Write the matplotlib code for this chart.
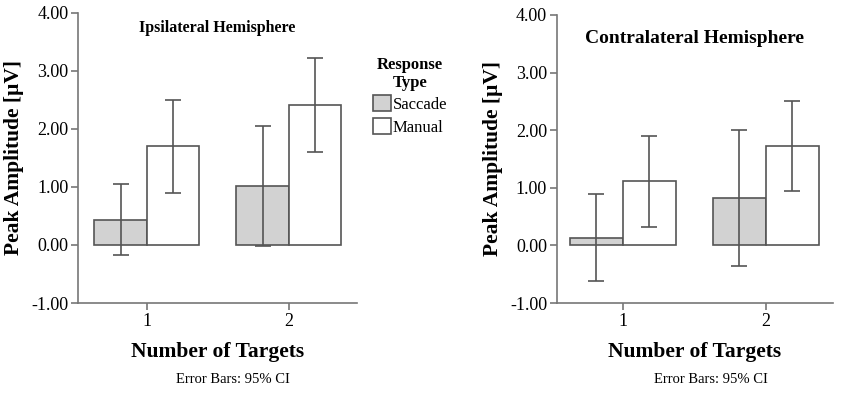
import matplotlib.pyplot as plt
import numpy as np

plt.rcParams['font.family'] = 'Liberation Serif'

targets = ['1', '2']
kinds = ['Saccade', 'Manual']

# ipsilateral hemisphere
ipsi_sacc = [0.43, 1.01]
ipsi_sacc_lo = [-0.18, -0.02]
ipsi_sacc_hi = [1.05, 2.05]
ipsi_man = [1.70, 2.41]
ipsi_man_lo = [0.89, 1.60]
ipsi_man_hi = [2.50, 3.22]

# contralateral hemisphere
contra_sacc = [0.13, 0.82]
contra_sacc_lo = [-0.62, -0.36]
contra_sacc_hi = [0.90, 2.00]
contra_man = [1.11, 1.73]
contra_man_lo = [0.32, 0.95]
contra_man_hi = [1.90, 2.50]

cor_borda = '#555555'
cor_sacc = '#d2d2d2'


def painel(ax, sacc, s_lo, s_hi, man, m_lo, m_hi, titulo, tam_titulo, y_titulo, xlim):
	x = np.arange(len(targets))
	w = 0.37
	xs = x - w / 2
	xm = x + w / 2
	b1 = ax.bar(xs, sacc, w, color=cor_sacc, edgecolor=cor_borda, linewidth=1.2, label=kinds[0])
	b2 = ax.bar(xm, man, w, color='white', edgecolor=cor_borda, linewidth=1.2, label=kinds[1])
	sacc = np.array(sacc); man = np.array(man)
	ax.errorbar(xs, sacc, yerr=[sacc - np.array(s_lo), np.array(s_hi) - sacc], fmt='none',
				ecolor=cor_borda, elinewidth=1.2, capsize=6, capthick=1.2)
	ax.errorbar(xm, man, yerr=[man - np.array(m_lo), np.array(m_hi) - man], fmt='none',
				ecolor=cor_borda, elinewidth=1.2, capsize=6, capthick=1.2)

	ax.set_ylim(-1, 4)
	ax.set_xlim(*xlim)
	ax.set_yticks(np.arange(-1, 4.01, 1))
	ax.set_yticklabels(['%.2f' % v for v in np.arange(-1, 4.01, 1)], fontsize=13)
	ax.set_xticks(x)
	ax.set_xticklabels(targets, fontsize=13)
	for s in ['top', 'right']:
		ax.spines[s].set_visible(False)
	for s in ['left', 'bottom']:
		ax.spines[s].set_color('#777777')
		ax.spines[s].set_linewidth(1.2)
	ax.tick_params(color='#777777', length=5, width=1.2, pad=2)
	ax.set_ylabel('Peak Amplitude [µV]', fontsize=15.5, fontweight='bold', labelpad=5)
	ax.set_xlabel('Number of Targets', fontsize=15.5, fontweight='bold', labelpad=9)
	ax.set_title(titulo, fontsize=tam_titulo, fontweight='bold', y=y_titulo)
	return b1, b2


fig = plt.figure(figsize=(8.5, 3.93), dpi=100)
ax1 = fig.add_axes([0.0918, 0.229, 0.328, 0.738])
ax2 = fig.add_axes([0.655, 0.229, 0.325, 0.733])

b1, b2 = painel(ax1, ipsi_sacc, ipsi_sacc_lo, ipsi_sacc_hi, ipsi_man, ipsi_man_lo, ipsi_man_hi,
				'Ipsilateral Hemisphere', 11.5, 0.905, (-0.486, 1.479))
painel(ax2, contra_sacc, contra_sacc_lo, contra_sacc_hi, contra_man, contra_man_lo, contra_man_hi,
	   'Contralateral Hemisphere', 14, 0.875, (-0.46, 1.47))

leg = fig.legend([b1, b2], kinds, title='Response\nType', loc='upper left',
				 bbox_to_anchor=(0.425, 0.885), frameon=False, fontsize=12,
				 title_fontproperties={'weight': 'bold', 'size': 12},
				 handlelength=1.1, handleheight=1.1, handletextpad=0.1, borderpad=0.2,
				 labelspacing=0.3)
leg.get_title().set_multialignment('center')
leg._legend_box.sep = 3

fig.text(0.274, 0.025, 'Error Bars: 95% CI', ha='center', fontsize=10.5)
fig.text(0.836, 0.025, 'Error Bars: 95% CI', ha='center', fontsize=10.5)

fig.savefig('out.png', dpi=100)
plt.close()
